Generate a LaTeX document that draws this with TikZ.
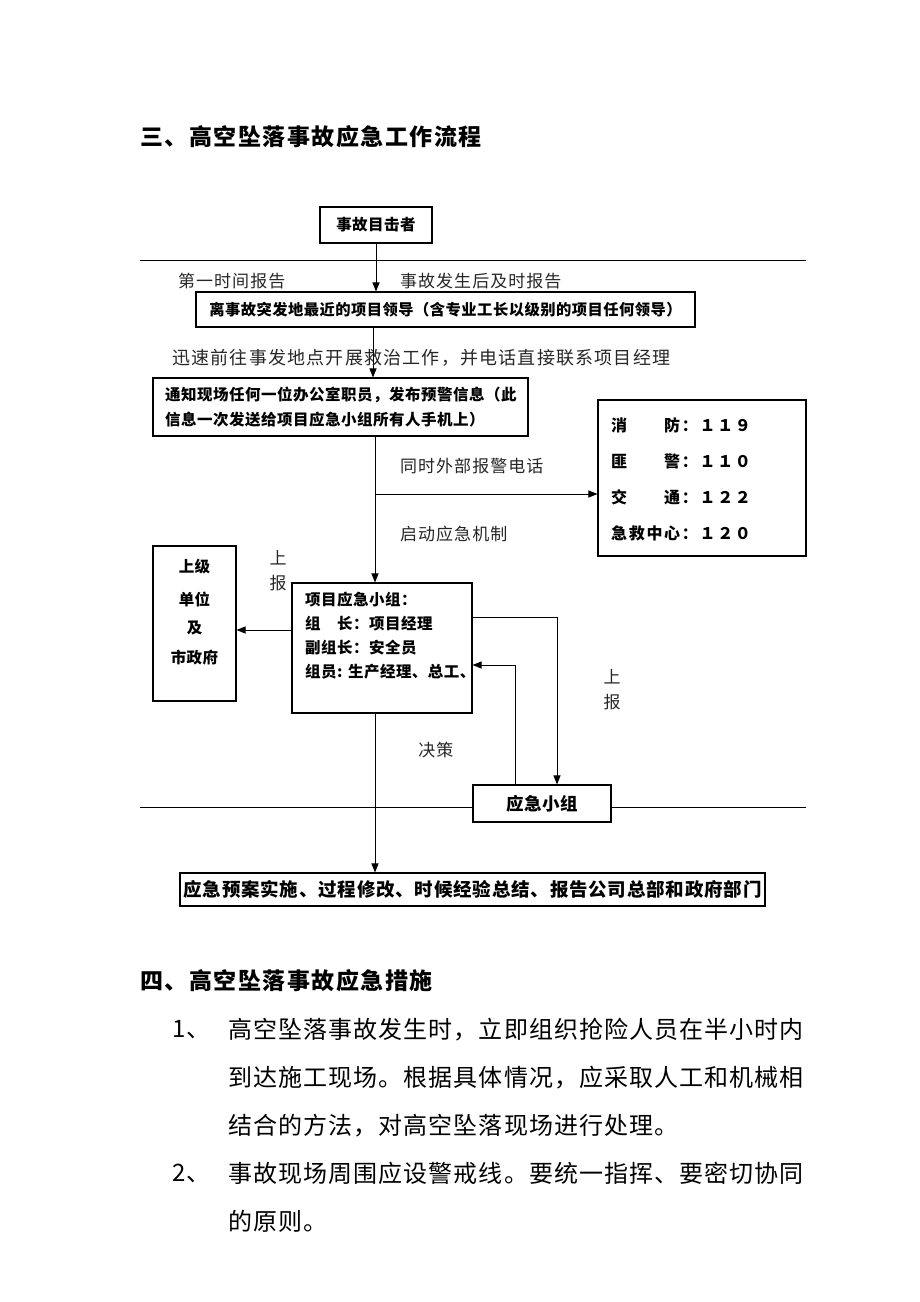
\documentclass[tikz,border=0pt]{standalone}
\usepackage{fontspec}
\setmainfont{Noto Sans CJK SC}
\usetikzlibrary{arrows.meta}
\newcommand\fsz[3]{\fontsize{#1}{#1}\selectfont\addfontfeature{LetterSpace=#2}#3}
\tikzset{
  box/.style={draw, line width=1.1pt, fill=white, inner sep=0pt},
  ln/.style={line width=0.9pt},
  arr/.style={line width=1pt, -{Triangle[length=9pt,width=7pt]}},
  txt/.style={inner sep=0pt, anchor=west},
  ctxt/.style={inner sep=0pt},
  labf/.style={font=\fsz{17}{6}{\color{black!85}}},
  bodyf/.style={font=\fsz{24}{4.5}{}},
  titlef/.style={font=\bfseries\fsz{23}{6.5}{}},
  boxf/.style={font=\bfseries\fsz{15.5}{3.2}{}}
}
\begin{document}
\begin{tikzpicture}[x=1pt,y=-1pt]
\useasboundingbox (0,0) rectangle (920,1302);
% title
\node[txt,titlef] (t1) at (140,137) {三、高空坠落事故应急工作流程};
% separator lines
\draw[ln] (140,260) -- (806,260);
% boxes
\node[box, minimum width=112pt, minimum height=36pt, boxf] (n1) at (376,225) {事故目击者};
\node[box, minimum width=499pt, minimum height=35pt, font=\bfseries\fsz{15.3}{3}{}] (n2) at (445.5,309.5) {离事故突发地最近的项目领导（含专业工长以级别的项目任何领导）};
\node[box, minimum width=375pt, minimum height=58pt] (n3) at (340.5,407) {};
\node[txt,boxf] (n3a) at (165,395) {通知现场任何一位办公室职员，发布预警信息（此};
\node[txt,boxf] (n3b) at (165,420) {信息一次发送给项目应急小组所有人手机上）};
\node[box, minimum width=208pt, minimum height=156pt] (ph) at (702,478) {};
\node[txt,font=\bfseries\fsz{16}{10.5}{}] (p1) at (611,425) {消　　防：１１９};
\node[txt,font=\bfseries\fsz{16}{10.5}{}] (p2) at (611,461) {匪　　警：１１０};
\node[txt,font=\bfseries\fsz{16}{10.5}{}] (p3) at (611,497) {交　　通：１２２};
\node[txt,font=\bfseries\fsz{16}{10.5}{}] (p4) at (611,533) {急救中心：１２０};
\node[box, minimum width=83pt, minimum height=155pt] (sup) at (194.5,623.5) {};
\node[ctxt,boxf] (s1) at (194.5,567) {上级};
\node[ctxt,boxf] (s2) at (194.5,599) {单位};
\node[ctxt,boxf] (s3) at (194.5,628) {及};
\node[ctxt,boxf] (s4) at (194.5,658) {市政府};
\node[box, minimum width=180pt, minimum height=130pt] (team) at (382,648) {};
\node[txt,boxf] (m1) at (305,600) {项目应急小组：};
\node[txt,boxf] (m2) at (305,624) {组　长：项目经理};
\node[txt,boxf] (m3) at (305,648) {副组长：安全员};
\node[txt,boxf] (m4) at (305,672) {组员: 生产经理、总工、};
% lower separator
\draw[ln] (140,807) -- (806,807);
\node[box, minimum width=138pt, minimum height=37pt, font=\bfseries\fsz{17.5}{3}{}] (emg) at (542,803.5) {应急小组};
\node[box, minimum width=585pt, minimum height=33pt, font=\bfseries\fsz{18.5}{4.3}{}] (fin) at (472.5,889.5) {应急预案实施、过程修改、时候经验总结、报告公司总部和政府部门};
% connectors
\draw[arr] (n1.south) -- (n1.south |- n2.north);
\draw[arr] (373,0 |- n2.south) -- (373,0 |- n3.north);
\draw[arr] (375,0 |- n3.south) -- (375,0 |- team.north);
\coordinate (br) at (375,494);
\draw[arr] (br) -- (br -| ph.west);
\draw[arr] (team.west |- 0,630) -- (sup.east |- 0,630);
\draw[arr] (team.east |- 0,617) -| ([xshift=15pt]emg.north);
\draw[arr] ([xshift=-27pt]emg.north) |- (team.east |- 0,665);
\draw[arr] (375,0 |- team.south) -- (375,0 |- fin.north);
% labels
\node[txt,labf] (l1) at (178,281) {第一时间报告};
\node[txt,labf] (l2) at (400,281) {事故发生后及时报告};
\node[txt,font=\fsz{18}{6.7}{\color{black!85}}] (l3) at (172,358) {迅速前往事发地点开展救治工作，并电话直接联系项目经理};
\node[txt,labf] (l4) at (400,466) {同时外部报警电话};
\node[txt,labf] (l5) at (400,534) {启动应急机制};
\node[ctxt,labf] (l6) at (278,558) {上};
\node[ctxt,labf] (l7) at (278,583) {报};
\node[ctxt,labf] (l8) at (612,677) {上};
\node[ctxt,labf] (l9) at (612,702) {报};
\node[ctxt,labf] (l10) at (436,750) {决策};
% section 4
\node[txt,titlef] (t2) at (140,981) {四、高空坠落事故应急措施};
\node[txt,bodyf] (b1n) at (172,1030) {1、};
\node[txt,bodyf] (b1) at (228,1030) {高空坠落事故发生时，立即组织抢险人员在半小时内};
\node[txt,bodyf] (b2) at (228,1078) {到达施工现场。根据具体情况，应采取人工和机械相};
\node[txt,bodyf] (b3) at (228,1126) {结合的方法，对高空坠落现场进行处理。};
\node[txt,bodyf] (b4n) at (172,1173) {2、};
\node[txt,bodyf] (b4) at (228,1173) {事故现场周围应设警戒线。要统一指挥、要密切协同};
\node[txt,bodyf] (b5) at (228,1221) {的原则。};
\end{tikzpicture}
\end{document}
